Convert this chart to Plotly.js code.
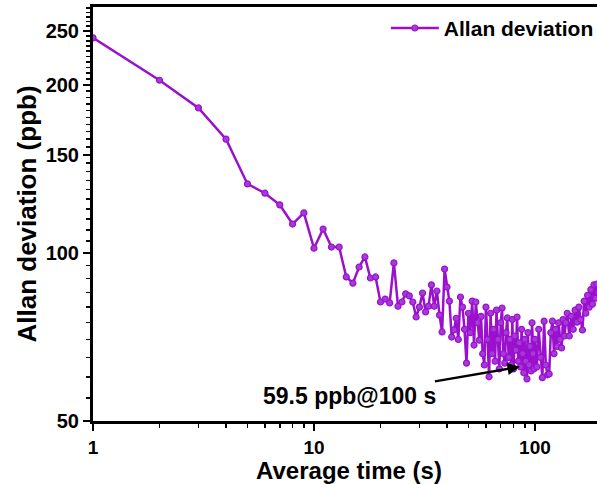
<!DOCTYPE html>
<html>
<head>
<meta charset="utf-8">
<script src="https://cdn.plot.ly/plotly-3.0.1.min.js"></script>
<style>
html,body{margin:0;padding:0;overflow:hidden;background:#fff;}
#chart{width:610px;height:484px;}
</style>
</head>
<body>
<div id="chart"></div>
<script>
// Averaging time (s)
const avgTime = [
  1, 2, 3, 4, 5, 6, 7, 8, 9, 10,
  11, 12, 13, 14, 15, 16, 17, 18, 19, 20,
  21, 22, 23, 24, 25, 26, 27, 28, 29, 30,
  31, 32, 33, 34, 35, 36, 37, 38, 39, 40,
  41, 42, 43, 44, 45, 46, 47, 48, 49, 50,
  51, 52, 53, 54, 55, 56, 57, 58, 59, 60,
  61, 62, 63, 64, 65, 66, 67, 68, 69, 70,
  71, 72, 73, 74, 75, 76, 77, 78, 79, 80,
  81, 82, 83, 84, 85, 86, 87, 88, 89, 90,
  91, 92, 93, 94, 95, 96, 97, 98, 99, 100,
  102, 104, 106, 108, 110, 112, 114, 116, 118, 120,
  122, 124, 126, 128, 130, 132, 134, 136, 138, 140,
  143, 146, 149, 152, 155, 158, 161, 164, 167, 170,
  173, 176, 179, 182, 185, 188, 191, 194
];

// Allan deviation (ppb)
const allanDev = [
  243, 204, 182, 160, 133, 128, 122, 112.7, 118, 102,
  110.4, 102.5, 102.5, 90.6, 88.3, 94.4, 98.4, 90.2, 90.6, 81.7,
  82.7, 81.4, 96, 80.3, 81.7, 84.5, 83.8, 81.7, 76.8, 80,
  84.8, 78.4, 80.3, 87.7, 80.3, 85.5, 77.4, 72.2, 93.6, 86.9,
  82, 70.7, 72.8, 76.4, 70, 83.4, 80, 73, 63.5, 78,
  72, 82, 68.4, 81.7, 75, 69.8, 77, 66, 63, 80,
  70, 60, 78, 66, 73, 64, 79, 70, 62, 75,
  79.7, 66, 63.5, 72, 76.5, 65, 70, 63, 76, 62,
  71, 67, 76.8, 64, 69, 62.5, 73, 66, 61, 70,
  64, 59.5, 72, 63, 68, 61.5, 75, 66, 62, 70,
  62.5, 73, 65, 59.8, 75.5, 63, 60.5, 60.7, 72, 75.5,
  66, 73, 68, 75, 70, 67.6, 76, 71, 75, 78,
  71, 77, 73, 79, 75.2, 80, 76, 72.8, 82, 78,
  84, 80, 86, 81, 87.7, 83, 88, 85
];

const yTickVals = [50, 100, 150, 200, 250];
const yTickText = ['<b>50</b>', '<b>100</b>', '<b>150</b>', '<b>200</b>', '<b>250</b>'];
const yMinorVals = [55, 60, 65, 70, 75, 80, 85, 90, 95, 105, 110, 115, 120, 125, 130, 135, 140, 145,
  155, 160, 165, 170, 175, 180, 185, 190, 195, 205, 210, 215, 220, 225, 230, 235, 240, 245, 255, 260, 265, 270, 275];
const xTickVals = [1, 10, 100];
const xTickText = ['<b>1</b>', '<b>10</b>', '<b>100</b>'];

const annText = '<b>59.5 ppb@100 s</b>';
const legendName = '<b>Allan deviation</b>';

const purple = '#9a10cc';
const fontFam = 'Arial, "Liberation Sans", sans-serif';

const trace = {
  x: avgTime, y: allanDev,
  type: 'scatter', mode: 'lines+markers',
  name: legendName,
  line: {color: purple, width: 2.5},
  marker: {color: '#a53ad8', size: 6, line: {color: purple, width: 1.2}}
};

const layout = {
  width: 610, height: 484,
  margin: {l: 93, r: 5, t: 7, b: 63},
  paper_bgcolor: '#fff', plot_bgcolor: '#fff',
  font: {family: fontFam, color: '#000'},
  showlegend: true,
  legend: {
    x: 0.572, y: 0.998, xanchor: 'left', yanchor: 'top',
    bgcolor: 'rgba(0,0,0,0)', borderwidth: 0,
    font: {family: fontFam, size: 21, color: '#000'},
    itemwidth: 48
  },
  xaxis: {
    type: 'log', range: [0, 2.317],
    showgrid: false, zeroline: false,
    showline: true, linecolor: '#000', linewidth: 3, mirror: true,
    ticks: 'outside', ticklen: 7, tickwidth: 2, tickcolor: '#000',
    tickmode: 'array', tickvals: xTickVals, ticktext: xTickText,
    tickfont: {family: fontFam, size: 19, color: '#000'},
    minor: {ticks: 'outside', ticklen: 4, tickwidth: 1.5, tickcolor: '#000', dtick: 'D1', showgrid: false},
    title: {text: '<b>Average time (s)</b>', font: {family: fontFam, size: 24, color: '#000'}, standoff: 2}
  },
  yaxis: {
    type: 'log', range: [Math.log10(50), Math.log10(276)],
    showgrid: false, zeroline: false,
    showline: true, linecolor: '#000', linewidth: 3, mirror: true,
    ticks: 'outside', ticklen: 7, tickwidth: 2, tickcolor: '#000',
    tickmode: 'array', tickvals: yTickVals, ticktext: yTickText,
    tickfont: {family: fontFam, size: 20, color: '#000'},
    minor: {ticks: 'outside', ticklen: 4, tickwidth: 1.5, tickcolor: '#000', tickmode: 'array', tickvals: yMinorVals, showgrid: false},
    title: {text: '<b>Allan deviation (ppb)</b>', font: {family: fontFam, size: 26, color: '#000'}, standoff: 2}
  },
  annotations: [{
    xref: 'x', yref: 'y',
    x: 1.932, y: 1.796,
    text: annText,
    showarrow: true, arrowhead: 2, arrowsize: 1, arrowwidth: 2.5, arrowcolor: '#000',
    ax: -170, ay: 29,
    font: {family: fontFam, size: 23, color: '#000'}
  }]
};

Plotly.newPlot('chart', [trace], layout, {displayModeBar: false, staticPlot: true});
</script>
</body>
</html>
